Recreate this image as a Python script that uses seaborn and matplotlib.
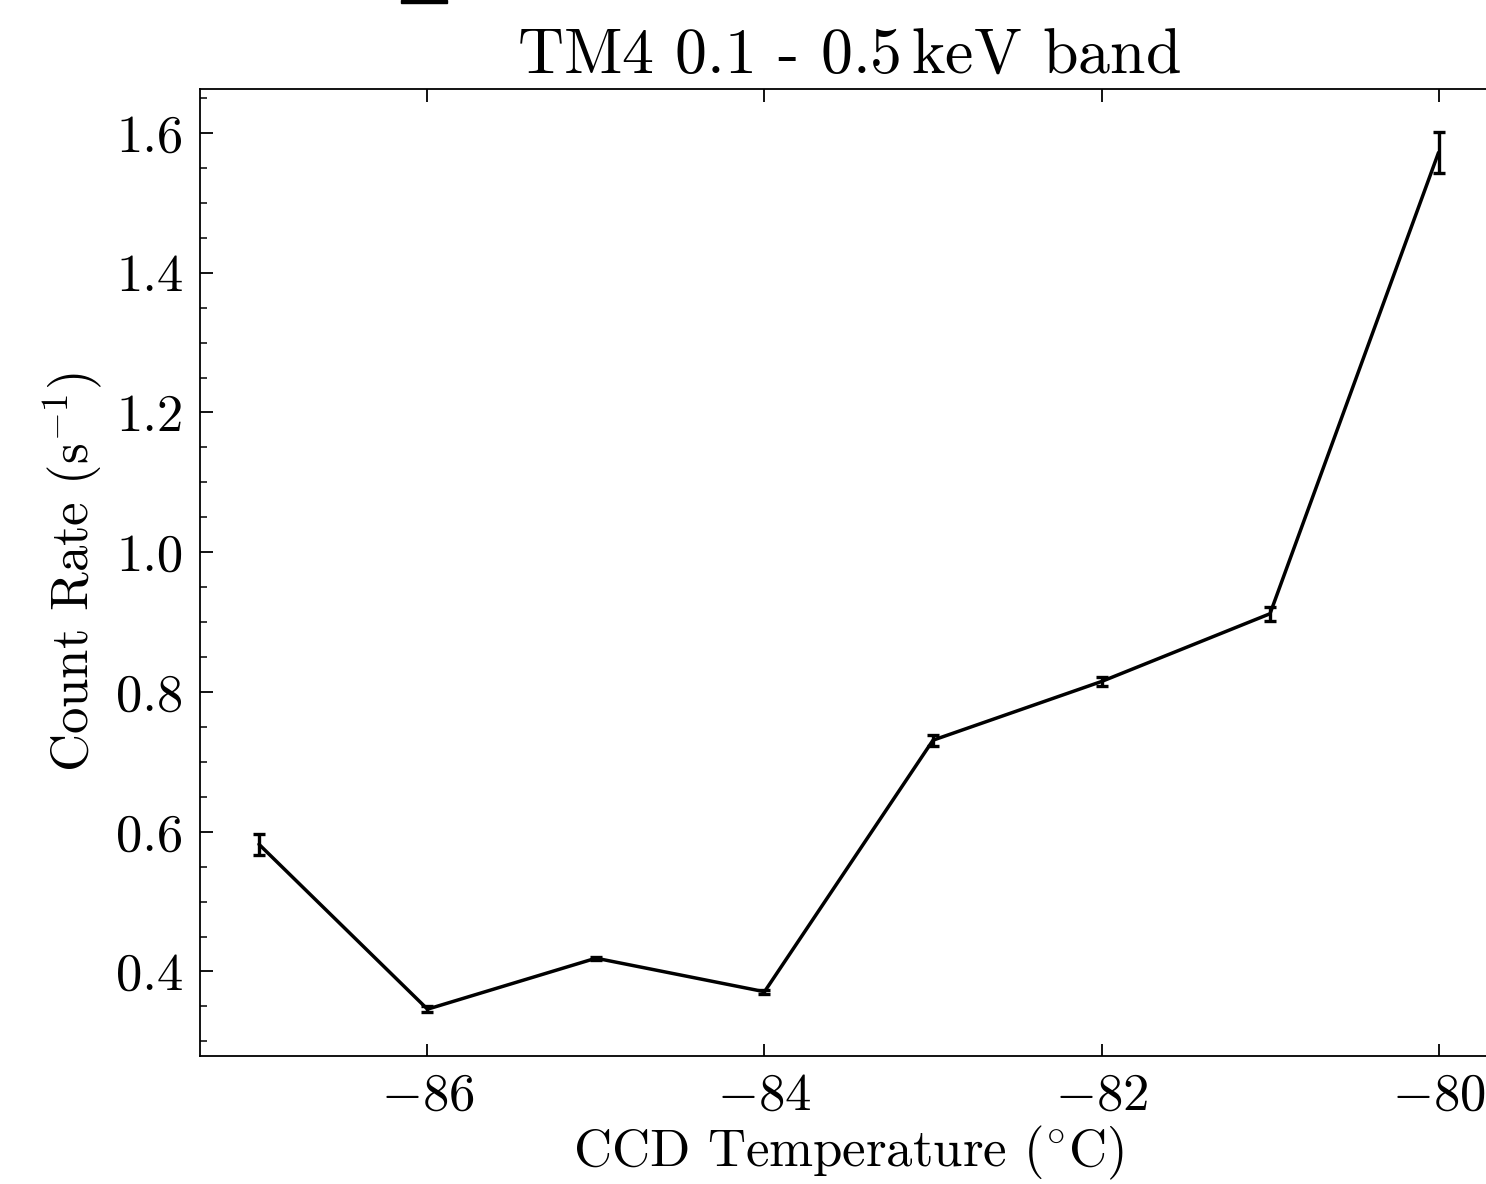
import matplotlib
matplotlib.use("Agg")
import matplotlib.pyplot as plt
import seaborn as sns
import pandas as pd
from matplotlib.patches import Rectangle
from matplotlib.ticker import MultipleLocator, AutoMinorLocator

temperature = [-87, -86, -85, -84, -83, -82, -81, -80]
count_rate = [0.582, 0.346, 0.419, 0.371, 0.731, 0.815, 0.912, 1.572]
count_err = [0.015, 0.004, 0.002, 0.003, 0.008, 0.007, 0.010, 0.029]

sns.set_style("ticks")
plt.rcParams.update({
    "font.family": ["cmr10", "DejaVu Serif"],
    "mathtext.fontset": "cm",
    "axes.formatter.use_mathtext": True,
    "axes.unicode_minus": True,
    "xtick.direction": "in",
    "ytick.direction": "in",
    "xtick.top": True,
    "ytick.right": True,
    "axes.linewidth": 1.3,
    "axes.edgecolor": "black",
    "text.color": "black",
    "axes.labelcolor": "black",
    "xtick.color": "black",
    "ytick.color": "black",
})

df = pd.DataFrame({"T": temperature, "rate": count_rate, "err": count_err})

fig = plt.figure(figsize=(14.86, 11.84), dpi=100)
ax = fig.add_axes([200 / 1486, 1 - 1056 / 1184, 1297.5 / 1486, (1056 - 89) / 1184])

sns.lineplot(data=df, x="T", y="rate", ax=ax, color="black", linewidth=2.5)
ax.errorbar(df["T"], df["rate"], yerr=df["err"], fmt="none", ecolor="black",
            elinewidth=2.4, capsize=4.5, capthick=2.4)

ax.set_xlim(-87.35, -79.65)
ax.set_ylim(0.279, 1.663)
ax.xaxis.set_major_locator(MultipleLocator(2))
ax.yaxis.set_major_locator(MultipleLocator(0.2))
ax.yaxis.set_minor_locator(AutoMinorLocator(4))
ax.yaxis.set_major_formatter(matplotlib.ticker.FormatStrFormatter("%.1f"))
ax.tick_params(which="major", length=9, width=1.3, labelsize=38, pad=12)
ax.tick_params(which="minor", length=5, width=1.1)
ax.tick_params(axis="x", which="minor", bottom=False, top=False)

ax.set_xlabel(r"CCD Temperature ($^{\circ}$C)", fontsize=38, labelpad=3)
ax.set_ylabel(r"Count Rate (s$^{-1}$)", fontsize=38, labelpad=8)
ax.set_title(r"TM4 0.1 - 0.5$\,$keV band", fontsize=46, pad=12)

fig.patches.append(Rectangle((401 / 1486, 1 - 3 / 1184), 46 / 1486, 3 / 1184,
                             transform=fig.transFigure, color="black"))

fig.savefig("out.png", dpi=100)
